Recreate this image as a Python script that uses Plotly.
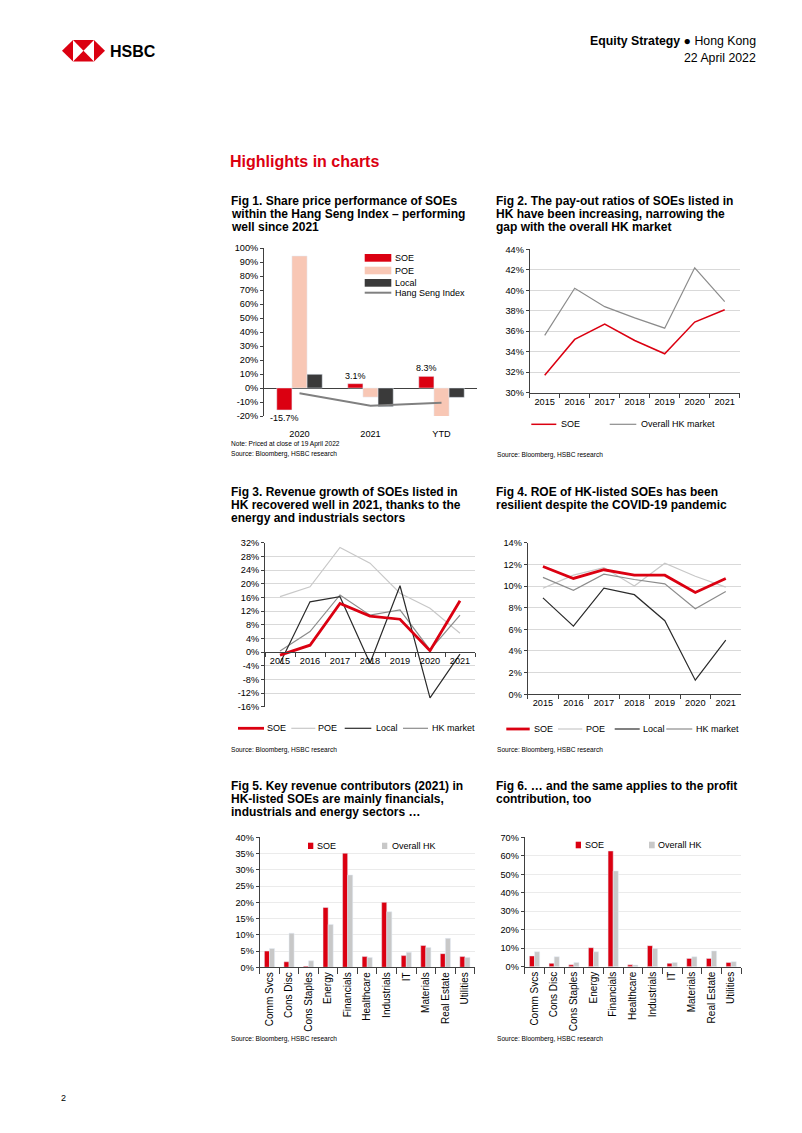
import plotly.graph_objects as go

# ---------------- data ----------------
fig1_categories = ["2020", "2021", "YTD"]
fig1_soe = [-15.7, 3.1, 8.3]
fig1_poe = [94.3, -6.5, -22.0]
fig1_local = [9.8, -13.3, -6.7]
fig1_hsi = [-3.8, -12.6, -10.5]
fig1_ticks = [-20, -10, 0, 10, 20, 30, 40, 50, 60, 70, 80, 90, 100]

years = ["2015", "2016", "2017", "2018", "2019", "2020", "2021"]
fig2_soe = [31.7, 35.2, 36.7, 35.1, 33.8, 36.9, 38.1]
fig2_hk = [35.6, 40.2, 38.4, 37.3, 36.3, 42.2, 38.9]
fig2_ticks = [30, 32, 34, 36, 38, 40, 42, 44]

fig3_soe = [-0.9, 2.0, 14.2, 10.5, 9.6, 0.4, 15.0]
fig3_poe = [16.2, 19.1, 30.6, 26.0, 17.2, 12.8, 5.5]
fig3_local = [-3.3, 14.7, 16.2, -3.3, 19.4, -13.4, -0.6]
fig3_hk = [0.3, 6.0, 16.7, 10.8, 12.3, 0.6, 10.8]
fig3_ticks = [-16, -12, -8, -4, 0, 4, 8, 12, 16, 20, 24, 28, 32]

fig4_soe = [11.8, 10.7, 11.5, 11.0, 11.0, 9.4, 10.7]
fig4_poe = [9.8, 11.0, 11.7, 10.0, 12.1, 10.9, 9.9]
fig4_local = [8.9, 6.3, 9.8, 9.2, 6.8, 1.3, 5.0]
fig4_hk = [10.8, 9.6, 11.1, 10.6, 10.2, 7.9, 9.5]
fig4_ticks = [0, 2, 4, 6, 8, 10, 12, 14]

sectors = ["Comm Svcs", "Cons Disc", "Cons Staples", "Energy", "Financials",
           "Healthcare", "Industrials", "IT", "Materials", "Real Estate", "Utilities"]
fig5_soe = [5.0, 1.7, 0.3, 18.4, 35.1, 3.3, 20.0, 3.6, 6.7, 4.2, 3.3]
fig5_hk = [5.8, 10.5, 2.0, 13.2, 28.4, 3.0, 17.1, 4.6, 6.1, 8.9, 3.0]
fig5_ticks = [0, 5, 10, 15, 20, 25, 30, 35, 40]

fig6_soe = [5.8, 1.8, 1.0, 10.3, 62.6, 1.0, 11.4, 1.8, 4.5, 4.5, 2.3]
fig6_hk = [8.1, 5.4, 2.3, 8.1, 51.8, 0.9, 9.9, 2.3, 5.4, 8.5, 2.7]
fig6_ticks = [0, 10, 20, 30, 40, 50, 60, 70]

# ---------------- styles ----------------
W, H = 802, 1133
FONT = "Liberation Sans, Arial, sans-serif"
RED = "#DB0011"
PINK = "#F8C7B5"
DARK = "#3A3A3A"
GRID = "#D9D9D9"
AXC = "#404040"
LGRAY = "#C8C8C8"
MGRAY = "#8C8C8C"


def px(x):
    return x / W


def py(y):
    return 1 - y / H


def pct(ticks):
    return [f"{t}%" for t in ticks]


annotations = []
shapes = []


def text(x, y, s, size=9, color="#000000", anchor="left"):
    annotations.append(dict(x=px(x), y=py(y), xref="paper", yref="paper", text=s,
                            showarrow=False, xanchor=anchor, yanchor="middle",
                            borderpad=0,
                            font=dict(family=FONT, size=size, color=color)))


def rect(x0, y0, x1, y1, color):
    shapes.append(dict(type="rect", xref="paper", yref="paper", x0=px(x0), x1=px(x1),
                       y0=py(y1), y1=py(y0), fillcolor=color, line=dict(width=0)))


def hline(x0, x1, y, color, width):
    shapes.append(dict(type="line", xref="paper", yref="paper", x0=px(x0), x1=px(x1),
                       y0=py(y), y1=py(y), line=dict(color=color, width=width)))


def poly(points, color):
    path = "M " + " L ".join(f"{px(a):.5f},{py(b):.5f}" for a, b in points) + " Z"
    shapes.append(dict(type="path", xref="paper", yref="paper", path=path,
                       fillcolor=color, line=dict(width=0)))


fig = go.Figure()


def xaxis_dom(x0, x1):
    return [px(x0), px(x1)]


def yaxis_dom(y0, y1):
    return [py(y1), py(y0)]


tickfont = dict(family=FONT, size=9.2, color="#000000")
YR_RANGE = [-0.5, len(years) - 0.5]

layout_axes = {}

# ---------- Fig 1 ----------
fig.add_trace(go.Bar(x=fig1_categories, y=fig1_soe, marker_color=RED, xaxis="x", yaxis="y",
                     text=[f"{v}%" for v in fig1_soe], textposition="outside",
                     textfont=dict(family=FONT, size=9, color="#000"),
                     cliponaxis=False, constraintext="none", showlegend=False))
fig.add_trace(go.Bar(x=fig1_categories, y=fig1_poe, marker_color=PINK, xaxis="x", yaxis="y",
                     showlegend=False))
fig.add_trace(go.Bar(x=fig1_categories, y=fig1_local, marker_color=DARK, xaxis="x", yaxis="y",
                     showlegend=False))
fig.add_trace(go.Scatter(x=fig1_categories, y=fig1_hsi, mode="lines", xaxis="x", yaxis="y",
                         line=dict(color="#808080", width=2), showlegend=False))
layout_axes["xaxis"] = dict(domain=xaxis_dom(264, 477), anchor="y", showline=False,
                            ticks="outside", ticklen=9, tickcolor="rgba(0,0,0,0)",
                            tickfont=tickfont, showgrid=False, automargin=False)
layout_axes["yaxis"] = dict(domain=yaxis_dom(248, 416), anchor="x", range=[-20, 100],
                            tickmode="array", tickvals=fig1_ticks, ticktext=pct(fig1_ticks),
                            showgrid=False, zeroline=True, zerolinecolor=AXC, zerolinewidth=1,
                            showline=True, linecolor=AXC, linewidth=1, ticks="outside",
                            ticklen=3, tickcolor=AXC, tickfont=tickfont, automargin=False)

# ---------- Fig 2 ----------
fig.add_trace(go.Scatter(x=years, y=fig2_hk, mode="lines", xaxis="x2", yaxis="y2",
                         line=dict(color=MGRAY, width=1.2), showlegend=False))
fig.add_trace(go.Scatter(x=years, y=fig2_soe, mode="lines", xaxis="x2", yaxis="y2",
                         line=dict(color=RED, width=1.5), showlegend=False))
layout_axes["xaxis2"] = dict(domain=xaxis_dom(529.7, 739.7), anchor="y2", range=YR_RANGE,
                             showline=True, linecolor=AXC, ticks="outside",
                             tickson="boundaries", ticklen=4, tickcolor=AXC,
                             tickfont=tickfont, showgrid=False, automargin=False)
layout_axes["yaxis2"] = dict(domain=yaxis_dom(249.3, 392.7), anchor="x2", range=[30, 44],
                             tickmode="array", tickvals=fig2_ticks, ticktext=pct(fig2_ticks),
                             showgrid=True, gridcolor=GRID, zeroline=False, showline=True,
                             linecolor=AXC, ticks="outside", ticklen=3, tickcolor=AXC,
                             tickfont=tickfont, automargin=False)

# ---------- Fig 3 ----------
for ys, c, w in [(fig3_poe, LGRAY, 1.2), (fig3_hk, MGRAY, 1.2), (fig3_local, "#2B2B2B", 1.2),
                 (fig3_soe, RED, 2.8)]:
    fig.add_trace(go.Scatter(x=years, y=ys, mode="lines", xaxis="x3", yaxis="y3",
                             line=dict(color=c, width=w), showlegend=False))
f3_top, f3_bot = 542.7, 706.7
f3_zero = f3_bot - (0 - (-16)) / 48 * (f3_bot - f3_top)
layout_axes["xaxis3"] = dict(domain=xaxis_dom(265, 475), anchor="free", position=py(f3_zero),
                             range=YR_RANGE, showline=True, linecolor=AXC, ticks="outside",
                             tickson="boundaries", ticklen=4, tickcolor=AXC,
                             tickfont=tickfont, showgrid=False, automargin=False)
layout_axes["yaxis3"] = dict(domain=yaxis_dom(f3_top, f3_bot), anchor="x3", range=[-16, 32],
                             tickmode="array", tickvals=fig3_ticks, ticktext=pct(fig3_ticks),
                             showgrid=True, gridcolor=GRID, zeroline=False, showline=True,
                             linecolor=AXC, ticks="outside", ticklen=3, tickcolor=AXC,
                             tickfont=tickfont, automargin=False)

# ---------- Fig 4 ----------
for ys, c, w in [(fig4_poe, LGRAY, 1.2), (fig4_hk, MGRAY, 1.2), (fig4_local, "#2B2B2B", 1.2),
                 (fig4_soe, RED, 2.8)]:
    fig.add_trace(go.Scatter(x=years, y=ys, mode="lines", xaxis="x4", yaxis="y4",
                             line=dict(color=c, width=w), showlegend=False))
layout_axes["xaxis4"] = dict(domain=xaxis_dom(527.7, 741), anchor="y4", range=YR_RANGE,
                             showline=True, linecolor=AXC, ticks="outside",
                             tickson="boundaries", ticklen=4, tickcolor=AXC,
                             tickfont=tickfont, showgrid=False, automargin=False)
layout_axes["yaxis4"] = dict(domain=yaxis_dom(542.7, 694.3), anchor="x4", range=[0, 14],
                             tickmode="array", tickvals=fig4_ticks, ticktext=pct(fig4_ticks),
                             showgrid=True, gridcolor=GRID, zeroline=False, showline=True,
                             linecolor=AXC, ticks="outside", ticklen=3, tickcolor=AXC,
                             tickfont=tickfont, automargin=False)

# ---------- Fig 5 & 6 ----------
xfont10 = dict(family=FONT, size=10, color="#000000")
for n, soe, hk, ticks, dx, dy, rng in [
        (5, fig5_soe, fig5_hk, fig5_ticks, (259.7, 474.7), (837.3, 967.3), [0, 40]),
        (6, fig6_soe, fig6_hk, fig6_ticks, (524.7, 741), (837.3, 966.7), [0, 70])]:
    fig.add_trace(go.Bar(x=sectors, y=soe, marker_color=RED, width=0.26, offset=-0.26,
                         xaxis=f"x{n}", yaxis=f"y{n}", showlegend=False))
    fig.add_trace(go.Bar(x=sectors, y=hk, marker_color=LGRAY, width=0.26, offset=0.0,
                         xaxis=f"x{n}", yaxis=f"y{n}", showlegend=False))
    layout_axes[f"xaxis{n}"] = dict(domain=xaxis_dom(*dx), anchor=f"y{n}", showline=True,
                                    linecolor=AXC, ticks="outside", tickson="boundaries",
                                    ticklen=6, tickcolor=AXC, tickangle=-90, tickfont=xfont10,
                                    showgrid=False, automargin=False)
    layout_axes[f"yaxis{n}"] = dict(domain=yaxis_dom(*dy), anchor=f"x{n}", range=rng,
                                    tickmode="array", tickvals=ticks, ticktext=pct(ticks),
                                    showgrid=True, gridcolor="#EBEBEB", zeroline=False,
                                    showline=True, linecolor=AXC, ticks="outside", ticklen=3,
                                    tickcolor=AXC, tickfont=tickfont, automargin=False)

# ---------------- header ----------------
# HSBC hexagon logo
lx0, lx1, ly0, ly1 = 62, 105, 40, 61.5
sq0, sq1 = 73, 94
cx, cy = 83.5, 50.75
poly([(lx0, cy), (sq0, ly0), (sq0, ly1)], RED)
poly([(lx1, cy), (sq1, ly0), (sq1, ly1)], RED)
poly([(sq0, ly0), (sq1, ly0), (cx, cy)], RED)
poly([(sq0, ly1), (sq1, ly1), (cx, cy)], RED)
annotations.append(dict(x=px(109), y=py(51), xref="paper", yref="paper", text="<b>HSBC</b>",
                        showarrow=False, xanchor="left", yanchor="middle", borderpad=0,
                        font=dict(family="Liberation Sans Narrow, Liberation Sans, Arial", size=16,
                                  color="#000")))
text(757, 41, "<b>Equity Strategy</b> ● Hong Kong", size=12.3, anchor="right")
text(757, 58, "22 April 2022", size=12.3, anchor="right")

text(229, 162, "<b>Highlights in charts</b>", size=16, color=RED)

# figure titles
titles = [
    (230, 201.0, ["Fig 1. Share price performance of SOEs",
                  "within the Hang Seng Index – performing", "well since 2021"]),
    (495, 201.0, ["Fig 2. The pay-out ratios of SOEs listed in",
                  "HK have been increasing, narrowing the",
                  "gap with the overall HK market"]),
    (230, 492.0, ["Fig 3. Revenue growth of SOEs listed in",
                  "HK recovered well in 2021, thanks to the",
                  "energy and industrials sectors"]),
    (495, 492.0, ["Fig 4. ROE of HK-listed SOEs has been",
                  "resilient despite the COVID-19 pandemic"]),
    (230, 785.5, ["Fig 5. Key revenue contributors (2021) in",
                  "HK-listed SOEs are mainly financials,",
                  "industrials and energy sectors …"]),
    (495, 785.5, ["Fig 6. … and the same applies to the profit",
                  "contribution, too"]),
]
for x, y, lines in titles:
    for i, ln in enumerate(lines):
        text(x, y + i * 13.2, f"<b>{ln}</b>", size=12)

# notes / sources
SRC = "Source: Bloomberg, HSBC research"
text(229.7, 444.3, "Note: Priced at close of 19 April 2022", size=6.6)
text(229.7, 454.3, SRC, size=6.6)
text(495.5, 455, SRC, size=6.6)
text(229.7, 750, SRC, size=6.6)
text(495.5, 750, SRC, size=6.6)
text(229.7, 1039, SRC, size=6.6)
text(495.5, 1039, SRC, size=6.6)
text(60, 1098, "2", size=9)

# ---------------- manual legends ----------------
# Fig 1
rect(364.7, 254, 391.3, 261.7, RED)
text(393.7, 257.8, "SOE")
rect(364.7, 266.7, 391.3, 274.3, PINK)
text(393.7, 270.5, "POE")
rect(364.7, 279, 391.3, 286.7, DARK)
text(393.7, 282.8, "Local")
hline(364.7, 391.3, 292.7, "#808080", 2)
text(393.7, 293.3, "Hang Seng Index")

# Fig 2
hline(531.3, 556.3, 424.3, RED, 1.5)
text(559.7, 424.3, "SOE")
hline(609.7, 636.3, 424.3, MGRAY, 1.2)
text(639.7, 424.3, "Overall HK market")

# Fig 3
hline(238, 264, 728.3, RED, 2.8)
text(266.3, 728.3, "SOE")
hline(291.3, 315.3, 728.3, LGRAY, 1.2)
text(317.3, 728.3, "POE")
hline(344.7, 371.3, 728.3, "#2B2B2B", 1.2)
text(374.7, 728.3, "Local")
hline(403, 428, 728.3, MGRAY, 1.2)
text(431.3, 728.3, "HK market")

# Fig 4
hline(506.3, 529.7, 729, RED, 2.8)
text(533, 729, "SOE")
hline(558, 582.3, 729, LGRAY, 1.2)
text(584.7, 729, "POE")
hline(614.7, 639.7, 729, "#2B2B2B", 1.2)
text(642.3, 729, "Local")
hline(666.3, 692.3, 729, MGRAY, 1.2)
text(694.7, 729, "HK market")

# Fig 5
rect(308, 842.7, 313.3, 849, RED)
text(316.3, 845.7, "SOE")
rect(382, 842.7, 387.3, 849, LGRAY)
text(390.7, 845.7, "Overall HK")

# Fig 6
rect(575.7, 841.7, 581, 848.3, RED)
text(583.5, 845, "SOE")
rect(649, 841.7, 654.7, 848.3, LGRAY)
text(657.3, 845, "Overall HK")

fig.update_layout(
    width=W, height=H, margin=dict(l=0, r=0, t=0, b=0, pad=0, autoexpand=False),
    paper_bgcolor="white", plot_bgcolor="white",
    barmode="group", bargap=0.36, bargroupgap=0,
    showlegend=False, font=dict(family=FONT, color="#000"),
    annotations=annotations, shapes=shapes,
    **layout_axes,
)

fig.write_html(
    "out.html",
    config={"displayModeBar": False},
    post_script="document.body.style.margin='0';document.body.style.padding='0';"
                "document.body.style.overflow='hidden';",
)
